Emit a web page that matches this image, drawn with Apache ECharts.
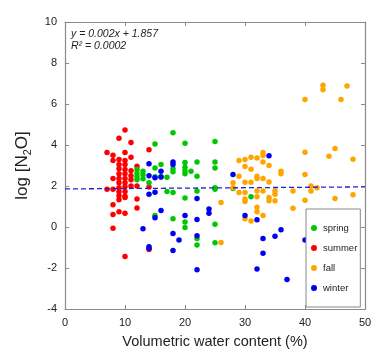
<!DOCTYPE html>
<html><head><meta charset="utf-8">
<script src="https://cdn.jsdelivr.net/npm/echarts@6/dist/echarts.min.js"></script>
<style>html,body{margin:0;padding:0;background:#fff}#c{width:376px;height:354px}</style>
</head><body><div id="c"></div>
<script>
var seasonNames = ['spring', 'summer', 'fall', 'winter'];
var xTicks = [0, 10, 20, 30, 40, 50];
var yTicks = [-4, -2, 0, 2, 4, 6, 8, 10];
var regSlope = 0.002, regIntercept = 1.857;
var regLabel = 'y = 0.002x + 1.857';
var r2Label = 'R\u00B2 = 0.0002';
var xLabel = 'Volumetric water content (%)';

var summer = [
 [7,3.64],[7,1.84],
 [8,3.5],[8,3.24],[8,2.36],[8,1.84],[8,1.09],[8,0.61],[8,-0.06],
 [9,4.33],[9,3.29],[9,3.05],[9,2.84],[9,2.6],[9,2.36],[9,2.16],[9,1.92],[9,1.72],[9,1.52],[9,1.33],[9,0.74],
 [10,4.73],[10,3.64],[10,3.24],[10,3.05],[10,2.8],[10,2.6],[10,2.36],[10,2.16],[10,1.96],[10,1.73],[10,1.5],[10,1.44],[10,0.67],[10,-1.44],
 [11,4.12],[11,3.4],[11,2.75],[11,2.5],[11,2.3],[11,2.0],
 [12,2.96],[12,2.0],[12,1.36],[12,0.93],
 [14,3.77],[14,1.95],[14,-1.1]
];
var spring = [
 [12,2.8],[12,2.62],[12,2.45],[12,2.3],[13,2.72],[13,2.55],[13,2.35],[14,2.16],
 [15,4.05],[15,2.88],[15,2.45],[15,0.56],[16,3.05],[16,2.45],[17,2.43],[17,1.73],
 [18,4.6],[18,2.84],[18,2.7],[18,1.68],[18,0.4],
 [20,4.08],[20,3.15],[20,2.92],[20,2.75],[20,2.6],[20,1.41],[20,0.24],[20,-0.03],
 [21,2.72],[22,3.17],[22,2.48],[22,1.76],[22,-0.56],[22,-0.88],
 [25,4.17],[25,3.17],[25,2.88],[25,1.92],[25,1.84],[25,0.13],[25,-0.77],
 [28,1.88],[31,1.48]
];
var fall = [
 [26,1.2],[26,-0.75],[28,2.16],[28,1.92],
 [29,3.25],[29,2.48],[29,1.68],
 [30,3.29],[30,2.95],[30,2.18],[30,1.68],[30,1.36],[30,1.25],[30,0.4],
 [31,3.4],[31,2.82],[31,2.18],[31,0.29],
 [32,3.37],[32,2.48],[32,2.37],[32,1.76],[32,1.47],[32,0.96],[32,0.75],
 [33,3.64],[33,3.49],[33,3.17],[33,2.37],[33,1.76],[33,0.56],
 [34,3.0],[34,2.2],[34,1.44],[34,1.28],
 [35,1.76],[35,1.6],[35,1.28],[36,2.72],[36,2.6],
 [38,1.76],[38,0.91],[40,6.22],[40,3.65],[40,2.56],[40,1.31],
 [41,2.0],[41,1.76],[42,1.92],[43,6.92],[43,6.7],[44,3.45],
 [45,3.83],[45,1.39],[46,6.22],[47,6.88],[48,3.3],[48,1.57]
];
var winter = [
 [13,-0.08],[14,3.09],[14,2.5],[14,1.6],[14,-0.96],[14,-1.04],
 [15,2.4],[15,1.7],[15,0.45],[16,2.72],[16,2.44],[16,0.8],
 [18,3.17],[18,3.05],[18,-0.32],[18,-1.15],[19,-0.64],[20,0.56],
 [22,1.39],[22,0.37],[22,-0.43],[22,-2.08],[24,0.88],[24,0.67],
 [28,2.56],[30,0.56],[32,0.35],[32,-2.05],[33,-0.56],[33,-1.28],
 [34,3.48],[35,-0.45],[36,-0.14],[37,-2.56],[40,-0.64]
];

var colors = {spring:'#00c800', summer:'#ff0000', fall:'#ffa500', winter:'#0000f0'};
var regLine = [[xTicks[0], regIntercept + regSlope*xTicks[0]], [xTicks[xTicks.length-1], regIntercept + regSlope*xTicks[xTicks.length-1]]];

var axisCol = '#8a8a8a';
var font = 'Liberation Sans, Arial, sans-serif';
function scat(name, data) {
  return {name:name, type:'scatter', data:data, symbol:'circle', symbolSize:5.5,
    itemStyle:{color:colors[name], opacity:1}, z:3};
}
var chart = echarts.init(document.getElementById('c'), null, {renderer:'canvas'});
chart.setOption({
  animation:false,
  textStyle:{fontFamily:font},
  grid:{left:65, right:11, top:22, bottom:41},
  xAxis:[{
    type:'value', min:xTicks[0], max:xTicks[xTicks.length-1], interval:10,
    axisLine:{show:true, onZero:false, lineStyle:{color:axisCol, width:1.2}},
    axisTick:{show:true, inside:true, length:4, lineStyle:{color:axisCol}},
    axisLabel:{color:'#222', fontSize:11, margin:8, fontFamily:font},
    splitLine:{show:false},
    name:xLabel, nameLocation:'middle', nameGap:25,
    nameTextStyle:{color:'#222', fontSize:14.5, fontFamily:font}
  },{
    type:'value', position:'top', min:xTicks[0], max:xTicks[xTicks.length-1], interval:10,
    axisLine:{show:true, onZero:false, lineStyle:{color:axisCol, width:1.2}},
    axisTick:{show:true, inside:true, length:4, lineStyle:{color:axisCol}},
    axisLabel:{show:false}, splitLine:{show:false}
  }],
  yAxis:[{
    type:'value', min:yTicks[0], max:yTicks[yTicks.length-1], interval:2,
    axisLine:{show:true, onZero:false, lineStyle:{color:axisCol, width:1.2}},
    axisTick:{show:true, inside:true, length:4, lineStyle:{color:axisCol}},
    axisLabel:{color:'#222', fontSize:11, margin:8, fontFamily:font},
    splitLine:{show:false},
    name:'log [N{s|2}O]', nameLocation:'middle', nameGap:32, nameRotate:90,
    nameTextStyle:{color:'#222', fontSize:17, fontFamily:font,
      rich:{s:{fontSize:11, padding:[10,0,0,0], color:'#222', fontFamily:font}}}
  },{
    type:'value', position:'right', min:yTicks[0], max:yTicks[yTicks.length-1], interval:2,
    axisLine:{show:true, onZero:false, lineStyle:{color:axisCol, width:1.2}},
    axisTick:{show:true, inside:true, length:4, lineStyle:{color:axisCol}},
    axisLabel:{show:false}, splitLine:{show:false}
  }],
  legend:{
    data:seasonNames, orient:'vertical', left:306, top:209,
    icon:'circle', itemWidth:6, itemHeight:6, itemGap:10,
    padding:[14,3,14,5], borderColor:'#888', borderWidth:1, backgroundColor:'#fff',
    textStyle:{fontSize:9.5, lineHeight:10, color:'#222', fontFamily:font, padding:[0,0,0,1]}
  },
  graphic:[
    {type:'text', left:71, top:29, style:{text:regLabel, font:'italic 10.5px Liberation Sans, Arial', fill:'#222'}},
    {type:'text', left:71, top:41, style:{text:r2Label, font:'italic 10.5px Liberation Sans, Arial', fill:'#222'}}
  ],
  series:[
    scat('summer', summer), scat('spring', spring), scat('fall', fall), scat('winter', winter),
    {name:'fit', type:'line', data:regLine, symbol:'none', silent:true, z:4,
     lineStyle:{color:'#2020d0', width:1.3, type:[5,3]}}
  ]
});
</script></body></html>
